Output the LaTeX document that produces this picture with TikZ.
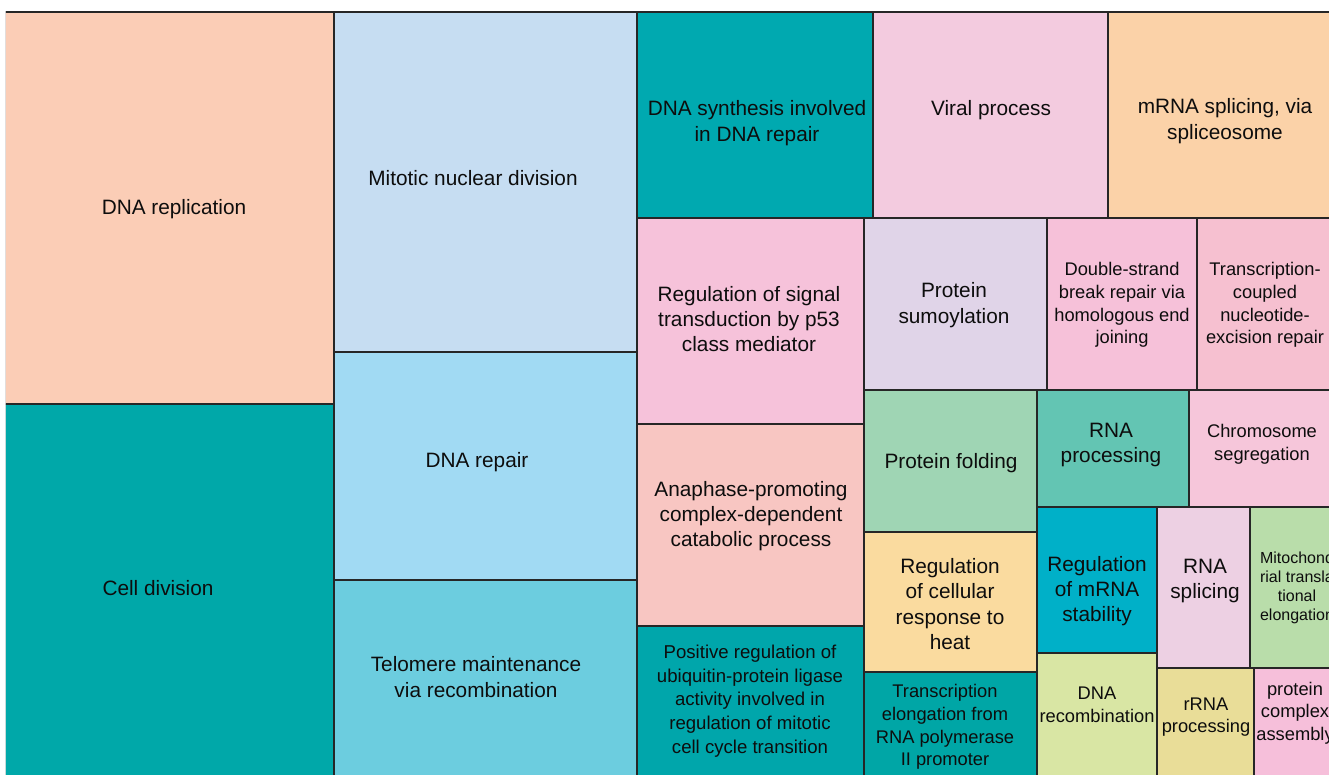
\documentclass[tikz,border=0pt]{standalone}
\usepackage{fontspec}
\setmainfont{Liberation Sans}
\begin{document}
\begin{tikzpicture}[x=1pt,y=-1pt,
  tile/.style={draw=black!85, line width=1.2pt},
  lbl/.style={align=center, inner sep=0pt, text=black!95, font=\fontsize{20.8}{25.3}\selectfont},
  lblm/.style={lbl, font=\fontsize{18.3}{22.6}\selectfont},
  lbls/.style={lbl, font=\fontsize{16}{19}\selectfont}]
\definecolor{cRepl}{HTML}{FBCDB6}
\definecolor{cDiv}{HTML}{00A8A9}
\definecolor{cMito}{HTML}{C6DDF2}
\definecolor{cRep}{HTML}{A1DAF3}
\definecolor{cTel}{HTML}{6CCDDF}
\definecolor{cSyn}{HTML}{00A9B0}
\definecolor{cVir}{HTML}{F3CBDF}
\definecolor{cMsp}{HTML}{FBD2A8}
\definecolor{cP53}{HTML}{F6C2DA}
\definecolor{cAna}{HTML}{F8C6C2}
\definecolor{cPos}{HTML}{00A6AB}
\definecolor{cSumo}{HTML}{E0D4E8}
\definecolor{cDsb}{HTML}{F6C1D9}
\definecolor{cTcr}{HTML}{F6C0D0}
\definecolor{cFold}{HTML}{9FD5B4}
\definecolor{cRnap}{HTML}{63C5B3}
\definecolor{cChr}{HTML}{F6C6DA}
\definecolor{cHeat}{HTML}{FADB9F}
\definecolor{cTel2}{HTML}{00A6A6}
\definecolor{cStab}{HTML}{00B0C8}
\definecolor{cRec}{HTML}{D9E6A4}
\definecolor{cRsp}{HTML}{EDD0E3}
\definecolor{cMtl}{HTML}{B9DDAA}
\definecolor{cRrna}{HTML}{E9DD98}
\definecolor{cPca}{HTML}{F6BFDA}
\useasboundingbox (0,0) rectangle (1329,774);
\fill[white] (0,0) rectangle (1329,774);
\begin{scope}
\clip (5.8,0) rectangle (1329,774);
% column 1
\draw[tile, fill=cRepl] (5,12) rectangle (334,404);
\draw[tile, fill=cDiv] (5,404) rectangle (334,790);
% column 2
\draw[tile, fill=cMito] (334,12) rectangle (637,352);
\draw[tile, fill=cRep] (334,352) rectangle (637,580);
\draw[tile, fill=cTel] (334,580) rectangle (637,790);
% top row
\draw[tile, fill=cSyn] (637,12) rectangle (873,218);
\draw[tile, fill=cVir] (873,12) rectangle (1108,218);
\draw[tile, fill=cMsp] (1108,12) rectangle (1342,218);
% column 3 lower
\draw[tile, fill=cP53] (637,218) rectangle (864,424);
\draw[tile, fill=cAna] (637,424) rectangle (864,626);
\draw[tile, fill=cPos] (637,626) rectangle (864,790);
% row under top
\draw[tile, fill=cSumo] (864,218) rectangle (1047,390);
\draw[tile, fill=cDsb] (1047,218) rectangle (1197,390);
\draw[tile, fill=cTcr] (1197,218) rectangle (1333,390);
% next
\draw[tile, fill=cFold] (864,390) rectangle (1037,532);
\draw[tile, fill=cRnap] (1037,390) rectangle (1189,507);
\draw[tile, fill=cChr] (1189,390) rectangle (1336,507);
\draw[tile, fill=cHeat] (864,532) rectangle (1037,672);
\draw[tile, fill=cTel2] (864,672) rectangle (1037,790);
\draw[tile, fill=cStab] (1037,507) rectangle (1157,653);
\draw[tile, fill=cRec] (1037,653) rectangle (1157,790);
\draw[tile, fill=cRsp] (1157,507) rectangle (1250,668);
\draw[tile, fill=cMtl] (1250,507) rectangle (1344,668);
\draw[tile, fill=cRrna] (1157,668) rectangle (1254,790);
\draw[tile, fill=cPca] (1254,668) rectangle (1337,790);
% top border
\draw[black!85, line width=2pt] (5,11.5) -- (1329,11.5);
% labels
\node[lbl] (repl) at (174,209) {DNA replication};
\node[lbl] (div) at (158,588) {Cell division};
\node[lbl] (mito) at (473,178) {Mitotic nuclear division};
\node[lbl] (rep) at (477,462) {DNA repair};
\node[lbl] (tel) at (476,677) {Telomere maintenance\\via recombination};
\node[lbl] (syn) at (757,123) {DNA synthesis involved\\in DNA repair};
\node[lbl] (vir) at (991,110) {Viral process};
\node[lbl] (msp) at (1225,121) {mRNA splicing, via\\spliceosome};
\node[lbl] (p53) at (749,319) {Regulation of signal\\transduction by p53\\class mediator};
\node[lbl] (sumo) at (954,305) {Protein\\sumoylation};
\node[lblm] (dsb) at (1122,305) {Double-strand\\break repair via\\homologous end\\joining};
\node[lblm] (tcr) at (1265,305) {Transcription-\\coupled\\nucleotide-\\excision repair};
\node[lbl] (ana) at (751,516) {Anaphase-promoting\\complex-dependent\\catabolic process};
\node[lbl] (fold) at (951,463) {Protein folding};
\node[lbl] (rnap) at (1111,445) {RNA\\processing};
\node[lblm] (chr) at (1262,444) {Chromosome\\segregation};
\node[lbl] (heat) at (950,604) {Regulation\\of cellular\\response to\\heat};
\node[lblm,font=\fontsize{18.6}{23.7}\selectfont] (pos) at (750,701) {Positive regulation of\\ubiquitin-protein ligase\\activity involved in\\regulation of mitotic\\cell cycle transition};
\node[lblm] (tel2) at (945,727) {Transcription\\elongation from\\RNA polymerase\\II promoter};
\node[lbl] (stab) at (1097,591) {Regulation\\of mRNA\\stability};
\node[lblm] (rec) at (1097,705) {DNA\\recombination};
\node[lbl] (rsp) at (1205,581) {RNA\\splicing};
\node[lbls] (mtl) at (1297,588) {Mitochond\\rial transla\\tional\\elongation};
\node[lblm] (rrna) at (1206,717) {rRNA\\processing};
\node[lblm] (pca) at (1295,713) {protein\\complex\\assembly};
\end{scope}
\end{tikzpicture}
\end{document}
